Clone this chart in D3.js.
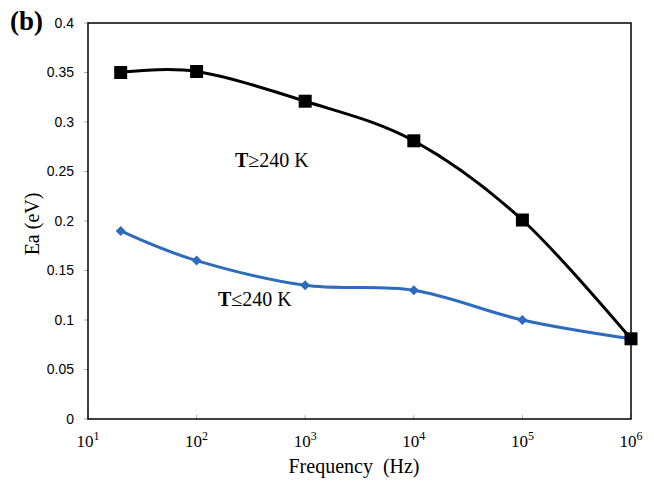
<!DOCTYPE html>
<html>
<head>
<meta charset="utf-8">
<script src="https://cdn.jsdelivr.net/npm/d3@7"></script>
<style>
  body { margin: 0; background: #fff; }
  svg text { font-family: "Liberation Serif", "Times New Roman", serif; }
  svg text.ytick { font-family: "Liberation Sans", Arial, sans-serif; }
</style>
</head>
<body>
<svg id="chart" width="654" height="491"></svg>
<script>
// data
const freq = [20, 100, 1000, 10000, 100000, 1000000];
const eaHigh = [0.350, 0.351, 0.321, 0.281, 0.201, 0.081];
const eaLow = [0.190, 0.160, 0.135, 0.130, 0.100, 0.081];
const yTicks = [0, 0.05, 0.1, 0.15, 0.2, 0.25, 0.3, 0.35, 0.4];
const xExponents = [1, 2, 3, 4, 5, 6];

const margin = { left: 88, right: 23, top: 23, bottom: 72 };
const width = 654, height = 491;

const svg = d3.select('#chart');

const x = d3.scaleLog()
  .domain([10, 1e6])
  .range([margin.left, width - margin.right]);

const y = d3.scaleLinear()
  .domain([0, 0.4])
  .range([height - margin.bottom, margin.top]);

// y tick marks and labels
svg.append('g')
  .selectAll('line')
  .data(yTicks)
  .enter().append('line')
  .attr('x1', margin.left - 4)
  .attr('x2', margin.left)
  .attr('y1', d => y(d))
  .attr('y2', d => y(d))
  .attr('stroke', '#aaa');

svg.append('g')
  .selectAll('text')
  .data(yTicks)
  .enter().append('text')
  .attr('class', 'ytick')
  .attr('x', 74)
  .attr('y', d => y(d))
  .attr('dy', '0.35em')
  .attr('text-anchor', 'end')
  .attr('font-size', 14)
  .text(d => d === 0 ? '0' : String(d));

// x tick marks (inside) and labels
svg.append('g')
  .selectAll('line')
  .data(xExponents)
  .enter().append('line')
  .attr('x1', d => x(Math.pow(10, d)))
  .attr('x2', d => x(Math.pow(10, d)))
  .attr('y1', y(0))
  .attr('y2', y(0) - 4)
  .attr('stroke', '#aaa');

const xl = svg.append('g')
  .selectAll('text')
  .data(xExponents)
  .enter().append('text')
  .attr('x', d => x(Math.pow(10, d)))
  .attr('y', 447)
  .attr('text-anchor', 'middle')
  .attr('font-size', 17);
xl.append('tspan').text('10');
xl.append('tspan').attr('dy', -7).attr('font-size', 12).text(d => d);

// plot frame
svg.append('rect')
  .attr('x', margin.left)
  .attr('y', margin.top)
  .attr('width', width - margin.left - margin.right)
  .attr('height', height - margin.top - margin.bottom)
  .attr('fill', 'none')
  .attr('stroke', '#000')
  .attr('stroke-width', 1.5);

// lines
const line = d3.line()
  .x(d => x(d[0]))
  .y(d => y(d[1]))
  .curve(d3.curveCatmullRom.alpha(0));

const blue = '#2e6bbd';

svg.append('path')
  .datum(d3.zip(freq, eaLow))
  .attr('d', line)
  .attr('fill', 'none')
  .attr('stroke', blue)
  .attr('stroke-width', 3);

svg.append('path')
  .datum(d3.zip(freq, eaHigh))
  .attr('d', line)
  .attr('fill', 'none')
  .attr('stroke', '#000')
  .attr('stroke-width', 3);

// markers
svg.append('g')
  .selectAll('path')
  .data(d3.zip(freq, eaLow))
  .enter().append('path')
  .attr('transform', d => `translate(${x(d[0])},${y(d[1])})`)
  .attr('d', 'M0,-5L5,0L0,5L-5,0Z')
  .attr('fill', blue);

svg.append('g')
  .selectAll('rect')
  .data(d3.zip(freq, eaHigh))
  .enter().append('rect')
  .attr('x', d => x(d[0]) - 6.5)
  .attr('y', d => y(d[1]) - 6.5)
  .attr('width', 13)
  .attr('height', 13)
  .attr('fill', '#000');

// annotations
const a1 = svg.append('text').attr('x', 235).attr('y', 167).attr('font-size', 20);
a1.append('tspan').attr('font-weight', 'bold').text('T');
a1.append('tspan').text('\u2265240 K');

const a2 = svg.append('text').attr('x', 218).attr('y', 306).attr('font-size', 20);
a2.append('tspan').attr('font-weight', 'bold').text('T');
a2.append('tspan').text('\u2264240 K');

// panel label
svg.append('text')
  .attr('x', 10)
  .attr('y', 30)
  .attr('font-size', 27)
  .attr('font-weight', 'bold')
  .text('(b)');

// axis titles
svg.append('text')
  .attr('x', 354)
  .attr('y', 473)
  .attr('text-anchor', 'middle')
  .attr('font-size', 20)
  .attr('xml:space', 'preserve')
  .text('Frequency  (Hz)');

svg.append('text')
  .attr('transform', 'translate(39,224) rotate(-90)')
  .attr('text-anchor', 'middle')
  .attr('font-size', 20)
  .text('Ea (eV)');
</script>
</body>
</html>
